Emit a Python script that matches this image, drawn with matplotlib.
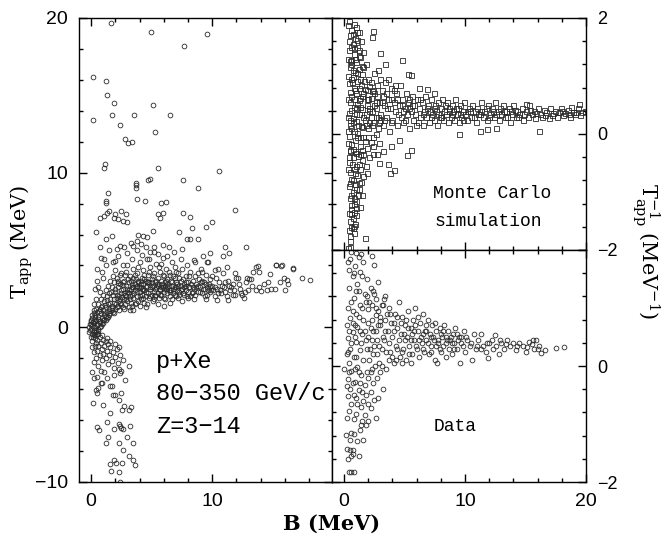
import numpy as np
import matplotlib
matplotlib.use("Agg")
import matplotlib.pyplot as plt
from matplotlib.ticker import MultipleLocator

# ---- p+Xe, T_app vs B (left panel) ----
xe_upper = [(1.63,19.7),(4.98,19.1),(9.54,18.97),(7.7,18.2),(0.17,16.2),(1.24,15.9),(1.32,15.0),
    (1.85,14.5),(5.14,14.4),(0.14,13.4),(1.71,13.7),(3.55,13.75),(6.5,13.7),(2.42,13.1),(5.28,12.6),
    (2.8,12.2),(3.03,11.9),(3.38,12.0),(1.07,10.3),(1.18,10.55),(5.55,10.27),(10.6,10.1),(7.6,9.5),
    (8.8,9.04),(4.73,9.55),(4.9,9.6),(3.69,9.3),(3.69,9.2),(3.7,9.0),(1.4,8.7),(1.21,8.2),(1.22,8.05),
    (3.8,8.3),(4.45,8.15),(5.75,8.05),(6.18,8.1),(11.9,7.6),(7.56,7.4),(8.14,7.12),(10.0,6.8),(9.48,6.5),
    (0.72,7.06),(0.39,6.15),(1.1,7.2),(1.5,7.5),(1.9,7.1),(2.0,7.3),(2.5,7.5),(2.9,7.3),(3.0,6.8),
    (2.6,6.9),(1.3,7.4),(2.2,7.0),(5.5,7.3),(5.9,7.4),(5.7,7.1),(7.3,6.15),(8.3,6.4),(5.1,6.2),
    (3.9,6.0),(4.3,5.9),(4.6,5.85),(11.1,5.2),(12.8,5.2),(11.4,4.8),(9.84,4.8),(8.8,5.74),(7.9,5.7),
    (8.2,5.72),(10.9,4.6),(9.6,4.2),(10.5,3.8),(0.72,5.2),(1.2,5.7),(1.7,5.9),(2.14,5.07),(2.42,5.27),
    (2.72,5.22),(3.27,5.48),(3.46,5.27),(3.8,5.55),(4.15,5.4),(4.57,5.22),(4.9,4.88),(5.17,5.18),
    (5.5,4.75),(5.94,5.33),(6.43,5.22),(6.87,4.84),(7.5,5.07),(8.52,4.38),(9.23,4.58),(9.65,4.21),
    (13.6,3.93),(15.3,4.04),(15.8,4.0),(16.65,3.83)]

xe_core = [(-0.2,0.0),(-0.1,0.2),(-0.1,-0.2),(0.0,0.4),(0.0,-0.1),(0.1,0.1),(0.1,0.6),(0.2,-0.3),
    (0.2,0.3),(0.3,0.8),(0.3,0.0),(0.4,0.5),(0.4,-0.2),(0.5,1.0),(0.5,0.2),(0.6,0.7),(0.6,-0.1),
    (0.7,1.2),(0.7,0.4),(0.8,0.9),(0.8,0.1),(0.9,1.4),(0.9,0.6),(1.0,1.1),(1.0,0.3),(1.1,1.7),(1.1,0.8),
    (1.2,1.3),(1.2,0.5),(1.3,2.0),(1.3,1.0),(1.4,1.5),(1.4,0.7),(1.5,2.2),(1.5,1.2),(1.6,0.9),(1.6,1.8),
    (1.7,2.6),(1.7,1.4),(1.8,1.0),(1.8,2.1),(1.9,1.6),(1.9,2.9),(2.0,1.2),(2.0,2.3),(2.1,1.9),(2.1,3.2),
    (2.2,1.4),(2.2,2.6),(2.3,1.1),(2.3,2.0),(2.4,2.8),(2.4,1.6),(2.5,3.5),(2.5,2.2),(2.6,1.3),(2.6,2.5),
    (2.7,1.8),(2.7,3.0),(2.8,2.1),(2.8,1.5),(2.9,2.7),(2.9,3.6),(3.0,1.7),(3.0,2.3),(3.1,2.9),(3.1,1.3),
    (3.2,2.0),(3.2,3.3),(3.3,2.5),(3.3,1.6),(3.4,2.8),(3.4,2.1),(3.5,1.9),(3.5,3.8),(3.6,2.4),(3.6,1.5),
    (3.7,3.1),(3.7,2.6),(3.8,2.0),(3.8,3.5),(3.9,1.7),(3.9,2.9),(4.0,2.3),(4.0,4.2),(4.1,2.6),(4.1,1.8),
    (4.2,3.2),(4.2,2.1),(4.3,2.8),(4.3,3.7),(4.4,1.6),(4.4,2.4),(4.5,3.0),(4.5,2.0),(4.6,2.7),(4.6,4.4),
    (4.7,2.2),(4.7,3.4),(4.8,1.9),(4.8,2.9),(4.9,2.5),(4.9,3.9),(5.0,2.1),(5.0,3.1),(5.1,2.7),(5.1,1.7),
    (5.2,2.3),(5.2,3.5),(5.3,2.9),(5.3,2.0),(5.4,2.6),(5.4,4.1),(5.5,2.2),(5.5,3.2),(5.6,2.8),(5.6,1.9),
    (5.7,2.4),(5.7,3.6),(5.8,3.0),(5.8,2.1),(5.9,2.6),(5.9,4.5),(6.0,2.3),(6.0,3.3),(6.1,2.9),(6.1,1.8),
    (6.2,2.5),(6.2,3.8),(6.3,2.2),(6.3,3.1),(6.4,2.7),(6.5,2.0),(6.5,3.4),(6.6,2.4),(6.7,2.9),(6.7,4.2),
    (6.8,2.2),(6.9,2.6),(6.9,3.2),(7.0,2.0),(7.0,2.9),(7.1,2.4),(7.2,3.5),(7.2,2.7),(7.3,2.1),(7.4,3.0),
    (7.5,2.5),(7.5,3.8),(7.6,2.2),(7.7,2.8),(7.8,3.3),(7.8,2.4),(7.9,2.0),(8.0,2.9),(8.1,2.6),(8.2,3.6),
    (8.3,2.2),(8.4,3.0),(8.5,2.5),(8.6,3.3),(8.7,2.8),(8.8,2.3),(8.9,3.1),(9.0,2.6),(9.1,3.8),(9.2,2.2),
    (9.3,2.9),(9.4,2.5),(9.5,3.4),(9.6,2.1),(9.7,2.8),(9.8,3.1),(9.9,2.4),(10.0,2.7),(10.2,2.0),(10.3,3.2),
    (10.4,2.5),(10.6,2.9),(10.7,2.2),(10.9,3.5),(11.0,2.6),(11.2,2.0),(11.3,3.0),(11.5,2.4),(11.7,2.8),
    (11.9,2.1),(12.1,3.2),(12.3,2.5),(12.5,2.1),(12.6,1.9),(12.8,2.9),(13.0,2.4),(13.2,3.1),(13.4,3.6),
    (13.6,2.42),(13.85,3.59),(14.0,2.36),(14.3,2.83),(14.6,2.9),(14.8,3.44),(14.9,2.5),(15.2,2.5),
    (15.6,2.9),(15.9,3.2),(16.0,2.4),(16.2,3.07),(16.3,2.8),(17.4,3.2),(18.1,3.07),(11.3,1.76),
    (10.4,1.78),(11.7,2.08),(12.4,2.25),(12.9,3.2),(13.06,3.1),(11.9,3.5),(12.0,3.2),(15.7,3.97),
    (15.3,4.06),(13.8,3.97),(16.65,3.78),(5.5,1.5),(6.5,1.6),(7.5,1.7),(8.5,1.8),(9.5,1.85),(4.5,1.3),
    (3.5,1.1),(8.0,1.9),(6.0,1.4)]

xe_fill = [(0.0,0.2),(0.1,-0.4),(0.2,0.9),(0.3,0.4),(0.4,1.2),(0.5,-0.4),(0.6,1.5),(0.7,0.0),(0.8,1.8),
    (0.9,0.2),(1.0,2.1),(1.1,0.5),(1.2,2.4),(1.3,0.6),(1.4,2.7),(1.5,0.8),(1.6,3.0),(1.7,1.1),(1.8,3.3),
    (1.9,0.9),(2.0,3.7),(2.1,1.3),(2.2,3.0),(2.3,1.7),(2.4,3.4),(2.5,1.5),(2.6,2.9),(2.7,1.2),(2.8,3.4),
    (2.9,2.0),(3.0,4.0),(3.1,2.2),(3.2,1.1),(3.3,3.0),(3.4,1.4),(3.5,2.6),(3.6,3.4),(3.7,1.6),(3.8,2.7),
    (3.9,3.9),(4.0,1.4),(4.1,3.0),(4.2,2.5),(4.3,1.9),(4.4,3.4),(4.5,2.6),(4.6,1.5),(4.7,2.9),(4.8,3.6),
    (4.9,2.0),(5.0,2.6),(5.1,3.3),(5.2,1.8),(5.3,2.5),(5.4,3.0),(5.5,2.7),(5.6,3.9),(5.7,2.1),(5.8,2.6),
    (5.9,3.4),(6.0,1.9),(6.1,2.7),(6.2,3.0),(6.3,2.6),(6.4,3.6),(6.5,2.3),(6.6,3.0),(6.7,1.8),(6.8,3.3),
    (6.9,2.1),(7.0,3.6),(7.1,2.8),(7.2,1.9),(7.3,3.2),(7.4,2.4),(7.6,3.1),(7.7,2.1),(7.8,2.7),(8.0,2.3),
    (8.1,3.3),(8.2,2.0),(8.4,2.6),(8.6,2.1),(8.8,3.5),(9.0,2.3),(9.2,3.0),(9.4,2.0),(9.6,2.6),(9.8,2.3),
    (10.0,3.3),(10.1,2.4),(10.5,2.2),(10.8,2.7),(11.1,2.3),(11.4,2.7),(11.8,2.4),(12.2,2.8),(12.7,2.3),
    (13.3,2.7),(13.9,2.6),(14.5,2.4),(0.5,3.8),(0.8,4.5),(1.0,3.2),(1.2,4.0),(1.5,5.0),(1.8,4.2),
    (2.2,4.6),(2.6,4.0),(3.0,4.8),(3.4,4.4),(3.8,5.0),(4.2,4.7),(4.8,4.4),(5.2,4.9),(5.8,4.1),(6.3,4.6),
    (6.9,3.9),(7.4,4.4),(0.3,2.5),(0.5,3.0),(0.7,2.3),(0.9,3.6),(0.4,1.8),(0.6,2.6),(0.2,1.5),(1.1,4.4),
    (2.0,4.3),(7.9,4.0),(8.6,4.2),(9.2,3.6),(10.2,3.7),(11.2,3.9)]

xe_fill2 = [(0.15,0.35),(0.25,-0.15),(0.35,0.65),(0.45,0.15),(0.55,0.55),(0.65,1.05),(0.75,0.25),
    (0.85,1.3),(0.95,0.45),(1.05,0.95),(1.15,1.45),(1.25,0.75),(1.35,1.75),(1.45,1.05),(1.55,1.55),
    (1.65,2.3),(1.75,1.25),(1.85,1.85),(1.95,2.5),(2.05,1.5),(2.15,2.1),(2.25,2.85),(2.35,1.8),(2.45,2.4),
    (2.55,1.95),(2.65,2.75),(2.75,2.25),(2.85,1.8),(2.95,2.5),(3.05,3.1),(3.15,2.4),(3.25,1.8),(3.35,2.6),
    (3.45,3.2),(3.55,2.2),(3.65,2.8),(3.75,2.3),(3.85,3.0),(3.95,2.6),(4.05,2.0),(4.15,2.8),(4.25,2.4),
    (4.35,3.1),(4.55,2.3),(4.65,2.9),(4.85,2.6),(5.05,2.9),(5.25,2.1),(5.45,2.8),(5.65,2.5),(5.85,2.8),
    (6.05,2.5),(6.25,2.8),(6.45,2.4),(6.65,2.7),(6.85,2.5),(7.05,2.6),(7.25,2.3),(7.45,2.7),(7.65,2.6),
    (7.85,2.9),(8.05,2.6),(8.25,2.8),(8.45,2.3),(8.65,2.6),(8.85,2.7),(9.05,2.9),(9.25,2.5),(9.45,2.8),
    (9.65,2.4),(9.85,2.7),(10.25,2.6),(10.65,2.4),(11.05,2.9),(11.55,2.6),(0.05,0.8),(0.25,1.1),
    (-0.05,0.5),(0.15,-0.6),(0.35,-0.5),(0.55,-0.25),(-0.15,-0.3)]

xe_lower = [(0.0,-0.6),(0.1,-0.9),(0.2,-0.5),(0.3,-1.2),(0.3,-0.7),(0.4,-1.0),(0.5,-1.5),(0.5,-0.8),
    (0.6,-1.2),(0.7,-0.6),(0.7,-1.8),(0.8,-1.0),(0.9,-1.4),(0.9,-2.1),(1.0,-0.8),(1.0,-1.7),(1.1,-1.2),
    (1.2,-2.0),(1.2,-0.9),(1.3,-1.5),(1.4,-2.4),(1.4,-1.1),(1.5,-1.8),(1.6,-1.3),(1.7,-2.2),(1.8,-1.6),
    (1.9,-2.6),(2.0,-1.9),(2.1,-1.4),(2.2,-2.3),(2.4,-1.8),(2.5,-2.8),(2.6,-2.1),(0.2,-1.6),(0.4,-2.0),
    (0.6,-2.5),(0.8,-2.8),(1.1,-2.9),(0.1,-1.3),(0.4,-0.3),(0.6,-0.4),(0.9,-0.5),(1.3,-0.7),(1.6,-0.9),
    (2.0,-1.1),(2.3,-1.3),(0.22,-2.25),(3.13,-2.53),(2.28,-2.7),(2.42,-2.98),(1.85,-3.1),(0.28,-3.28),
    (0.45,-3.22),(0.8,-3.57),(0.91,-3.63),(1.6,-3.78),(1.76,-3.78),(0.39,-4.04),(0.5,-4.23),(0.6,-3.95),
    (2.5,-4.25),(2.0,-4.4),(1.8,-4.4),(2.34,-4.73),(3.3,-5.12),(3.1,-5.35),(2.56,-5.35),(1.6,-5.53),
    (1.35,-6.13),(2.28,-6.24),(2.4,-6.4),(2.5,-6.5),(2.6,-6.6),(3.25,-6.4),(0.47,-6.45),(0.69,-6.63),
    (1.87,-6.6),(1.4,-7.1),(1.24,-7.45),(2.97,-7.1),(2.28,-7.48),(3.44,-7.47),(2.6,-7.9),(3.1,-8.3),
    (1.93,-8.56),(2.06,-8.74),(1.57,-8.84),(2.59,-8.78),(3.46,-8.6),(3.63,-8.87),(1.68,-9.26),(2.3,-9.36),
    (2.37,-9.97),(2.8,-3.4),(0.1,-2.9),(1.3,-3.3),(0.15,-4.9),(1.0,-5.0),(2.7,-5.1)]

# ---- Monte Carlo, 1/T_app vs B (top right) ----
mc_vert = [(0.4,1.94),(0.8,1.9),(1.0,1.85),(0.6,1.8),(1.2,1.75),(0.5,1.7),(0.9,1.65),(1.4,1.6),(0.7,1.55),
    (1.1,1.5),(0.4,1.45),(1.6,1.42),(0.8,1.38),(1.3,1.33),(0.6,1.28),(1.0,1.24),(1.8,1.2),(0.5,1.15),
    (1.2,1.12),(0.9,1.07),(1.5,1.03),(0.7,0.98),(2.0,0.95),(1.1,0.92),(0.4,0.88),(1.4,0.85),(0.8,0.8),
    (1.7,0.77),(2.3,0.74),(1.0,0.7),(0.6,0.66),(1.3,0.62),(1.9,0.6),(0.5,0.55),(1.1,0.52),(2.5,0.5),
    (0.8,0.46),(1.5,0.43),(2.1,0.4),(0.4,0.37),(1.2,0.34),(2.8,0.3),(0.7,0.28),(1.7,0.25),(1.0,0.22),
    (2.4,0.2),(0.5,0.16),(1.4,0.13),(2.0,0.1),(0.8,0.06),(1.1,0.02),(2.6,0.0),(0.4,-0.03),(1.6,-0.06),
    (0.9,-0.1),(2.2,-0.13),(0.6,-0.17),(1.3,-0.2),(1.9,-0.24),(0.5,-0.28),(1.0,-0.32),(2.4,-0.35),
    (0.7,-0.4),(1.5,-0.44),(0.4,-0.48),(1.2,-0.52),(1.8,-0.55),(0.8,-0.6),(0.5,-0.65),(1.1,-0.7),
    (1.6,-0.72),(0.6,-0.78),(1.4,-0.82),(0.9,-0.86),(0.4,-0.9),(1.2,-0.95),(0.7,-1.0),(1.5,-1.05),
    (0.5,-1.1),(1.0,-1.15),(0.8,-1.2),(1.3,-1.25),(0.6,-1.3),(0.4,-1.36),(1.0,-1.4),(0.7,-1.45),
    (0.5,-1.5),(0.9,-1.55),(0.6,-1.6),(0.4,-1.66),(0.8,-1.7),(0.5,-1.76),(0.5,-1.84),(1.74,-1.79),
    (0.35,-1.96),(0.3,1.0),(0.6,1.2),(1.3,0.95),(1.6,0.7),(1.0,0.45),(0.3,0.3),(1.8,0.35),(0.6,0.1),
    (1.3,-0.05),(0.9,-0.3),(1.6,-0.35),(0.3,-0.6),(1.0,-0.55),(0.7,-0.8),(1.0,-0.95),(0.5,-0.3),
    (0.3,0.6),(0.9,0.75),(1.2,0.58),(1.5,0.12),(0.3,-0.15),(0.7,1.1),(1.2,1.35),(0.4,1.6),(1.1,1.75),
    (0.6,-1.05),(0.8,-1.35),(0.9,1.3)]

mc_fill = [(0.35,1.88),(0.75,1.72),(1.05,1.62),(0.55,1.5),(1.25,1.45),(0.85,1.48),(0.45,1.25),(1.45,1.18),
    (1.05,1.05),(0.65,0.9),(1.65,0.92),(1.25,0.8),(0.45,0.72),(2.1,0.82),(0.85,0.6),(1.45,0.65),(2.2,0.62),
    (0.6,0.42),(1.35,0.47),(1.9,0.5),(0.95,0.35),(2.6,0.45),(1.55,0.3),(0.45,0.25),(2.25,0.3),(1.15,0.15),
    (1.85,0.15),(0.7,0.2),(2.9,0.2),(0.35,0.05),(1.05,-0.05),(1.75,-0.12),(0.75,-0.25),(2.0,-0.05),
    (1.45,-0.28),(0.4,-0.4),(1.15,-0.38),(2.1,-0.4),(0.65,-0.52),(1.35,-0.6),(0.9,-0.68),(1.9,-0.68),
    (0.5,-0.85),(1.25,-0.85),(0.8,-1.1),(1.15,-1.05),(0.55,-1.22),(1.0,-1.28),(0.7,-1.62),(0.55,-1.38),
    (0.85,-1.58),(0.45,-1.95),(1.3,-0.35),(0.55,0.95),(1.6,1.15),(0.3,1.3),(1.9,0.75),(2.3,0.15),
    (2.7,0.65),(3.1,0.55),(3.5,0.7),(3.3,0.25),(3.9,0.6),(4.4,0.6),(4.9,0.4),(5.4,0.6),(2.5,1.05),
    (3.0,0.95),(2.4,-0.2),(2.7,-0.35)]

mc_band = [(2.0,0.6),(2.1,0.2),(2.2,0.9),(2.3,0.4),(2.4,-0.05),(2.5,0.7),(2.6,0.3),(2.7,0.85),(2.8,0.1),
    (2.9,0.55),(3.0,0.35),(3.1,0.75),(3.2,0.15),(3.3,0.5),(3.4,0.9),(3.5,0.3),(3.6,0.6),(3.7,0.05),
    (3.8,0.45),(3.9,0.8),(4.0,0.25),(4.1,0.55),(4.2,0.4),(4.3,0.7),(4.4,0.15),(4.5,0.5),(4.6,0.85),
    (4.7,0.3),(4.8,0.6),(4.9,0.2),(5.0,0.45),(5.1,0.7),(5.2,0.35),(5.3,0.55),(5.4,0.1),(5.5,0.4),
    (5.6,0.65),(5.7,0.25),(5.8,0.5),(5.9,0.35),(6.0,0.6),(6.1,0.2),(6.2,0.45),(6.3,0.3),(6.4,0.55),
    (6.5,0.15),(6.6,0.4),(6.7,0.65),(6.8,0.3),(6.9,0.5),(7.0,0.2),(7.1,0.4),(7.2,0.6),(7.3,0.35),
    (7.4,0.25),(7.5,0.5),(7.6,0.4),(7.7,0.15),(7.8,0.55),(7.9,0.3),(8.0,0.45),(8.1,0.6),(8.2,0.25),
    (8.3,0.4),(8.4,0.35),(8.5,0.55),(8.6,0.2),(8.7,0.45),(8.8,0.3),(8.9,0.5),(9.0,0.4),(9.1,0.25),
    (9.2,0.6),(9.3,0.35),(9.4,0.45),(9.5,0.2),(9.6,0.5),(9.7,0.3),(9.8,0.4),(9.9,0.55),(10.0,0.35),
    (10.2,0.25),(10.3,0.45),(10.5,0.3),(10.6,0.5),(10.8,0.4),(10.9,0.2),(11.0,0.45),(11.2,0.35),
    (11.3,0.55),(11.5,0.3),(11.6,0.4),(11.8,0.25),(11.9,0.5),(12.1,0.35),(12.2,0.45),(12.4,0.3),
    (12.5,0.55),(12.7,0.4),(12.8,0.25),(13.0,0.35),(13.1,0.5),(13.3,0.3),(13.4,0.4),(13.6,0.45),
    (13.7,0.2),(13.9,0.35),(14.0,0.5),(14.2,0.3),(14.3,0.4),(14.5,0.35),(14.7,0.45),(14.8,0.25),
    (15.0,0.4),(15.2,0.3),(15.3,0.5),(15.5,0.35),(15.7,0.4),(15.8,0.28),(16.0,0.45),(16.2,0.35),
    (16.4,0.3),(16.5,0.42),(16.7,0.38),(16.9,0.28),(17.0,0.45),(17.2,0.33),(17.4,0.4),(17.6,0.3),
    (17.8,0.38),(17.9,0.45),(18.1,0.32),(18.3,0.36),(18.5,0.42),(18.7,0.3),(18.9,0.38),(19.1,0.34),
    (19.3,0.44),(19.5,0.32),(19.7,0.38),(19.9,0.4),(19.4,0.52),(18.8,0.47),
    (2.05,0.45),(2.35,0.75),(2.65,0.55),(2.95,0.25),(3.25,0.65),(3.55,0.45),(3.85,0.2),(4.15,0.75),
    (4.45,0.35),(4.75,0.5),(5.05,0.25),(5.35,0.45),(5.65,0.5),(5.95,0.15),(6.25,0.6),(6.55,0.35),
    (6.85,0.45),(7.15,0.3),(7.45,0.45),(7.75,0.35),(8.05,0.3),(8.35,0.5),(8.65,0.4),(8.95,0.35),
    (9.25,0.45),(9.55,0.35),(9.85,0.25),(10.15,0.4),(10.45,0.4),(10.75,0.3),(11.05,0.35),(11.35,0.4),
    (11.7,0.45),(12.0,0.3),(12.3,0.4),(12.6,0.35),(12.9,0.45),(13.2,0.4),(13.5,0.3),(13.8,0.4),
    (14.1,0.42),(14.4,0.3),(14.9,0.35),(15.4,0.42),(15.9,0.36),(16.6,0.33),(17.3,0.36),(18.0,0.4),
    (18.6,0.35),(19.2,0.38)]

mc_outliers = [(2.4,1.78),(2.27,1.67),(4.78,1.28),(5.3,1.04),(5.5,1.02),(6.88,0.78),(3.76,-0.67),
    (4.12,-0.62),(5.22,-0.37),(5.55,-0.27),(3.62,-0.52),(2.85,-0.5),(16.1,0.06),(9.5,0.0),(11.8,0.09),
    (12.6,0.1),(15.05,0.52),(11.2,0.05),(3.0,1.4),(3.4,1.2),(2.8,1.1),(3.6,0.95),(4.2,0.85),(3.2,-0.3),
    (2.9,-0.15),(3.9,-0.2),(4.5,-0.1),(6.2,0.8),(7.4,0.7)]

# ---- Data, 1/T_app vs B (bottom right) ----
data_left = [(0.6,1.96),(1.0,1.94),(1.4,1.93),(2.3,1.9),(0.5,1.85),(1.2,1.88),(1.6,1.8),(0.9,1.72),
    (0.4,1.65),(2.5,1.75),(1.3,1.62),(0.7,1.55),(1.9,1.5),(2.8,1.45),(1.1,1.42),(0.4,1.35),(2.2,1.35),
    (3.4,1.2),(1.7,1.25),(0.8,1.18),(2.6,1.15),(3.1,1.05),(1.3,1.05),(0.3,1.0),(2.0,0.98),(1.0,0.9),
    (2.6,0.88),(0.5,0.82),(1.6,0.8),(3.0,0.78),(0.2,0.7),(1.1,0.68),(2.2,0.65),(0.7,0.58),(1.5,0.55),
    (0.3,0.48),(1.0,0.42),(0.5,0.3),(1.3,0.28),(0.2,0.2),(0.8,0.15),(1.6,0.1),(0.4,0.05),(1.1,-0.02),
    (0.0,-0.05),(0.6,-0.08),(1.4,-0.15),(2.0,-0.2),(0.3,-0.22),(0.9,-0.28),(1.7,-0.32),(2.4,-0.3),
    (0.5,-0.4),(1.2,-0.42),(3.18,-0.4),(0.3,-0.52),(1.0,-0.55),(1.8,-0.5),(2.5,-0.58),(0.6,-0.65),
    (1.4,-0.7),(2.2,-0.72),(0.4,-0.78),(1.0,-0.82),(1.7,-0.85),(0.2,-0.9),(0.8,-0.92),(1.5,-0.95),
    (1.4,-1.02),(1.8,-1.02),(0.15,-1.19),(0.6,-1.16),(0.85,-1.18),(0.45,-1.28),(1.1,-1.3),(1.6,-1.28),
    (2.0,-0.95),(0.25,-1.43),(0.45,-1.44),(0.3,-1.6),(0.55,-1.55),(0.75,-1.52),(1.25,-1.55),(0.4,-1.82),
    (0.6,-1.82),(0.85,-1.82),(0.7,-1.45),(1.3,-1.1),(2.6,-0.9),(0.4,0.6),(0.9,0.7),(1.4,0.4),(1.9,0.3),
    (2.3,0.45),(0.7,0.95),(1.2,1.3),(1.8,1.1),(2.4,1.3),(0.8,-0.5),(1.2,-0.1),(1.6,-0.6),(2.2,-0.45),
    (2.8,-0.55),(0.6,0.4),(1.5,1.0),(2.1,0.1),(0.2,-0.35),(1.0,0.15),(2.7,0.2)]

data_main = [(2.0,0.5),(2.1,1.1),(2.2,-0.1),(2.3,0.8),(2.4,0.2),(2.5,1.25),(2.6,0.6),(2.7,-0.2),(2.8,0.95),
    (2.9,0.35),(3.0,0.7),(3.1,0.0),(3.2,1.05),(3.3,0.45),(3.4,0.8),(3.5,-0.05),(3.6,0.6),(3.7,1.0),
    (3.8,0.25),(3.9,0.75),(4.0,0.5),(4.1,0.05),(4.2,0.9),(4.3,0.35),(4.4,0.65),(4.5,1.1),(4.6,0.15),
    (4.7,0.55),(4.8,0.85),(4.9,0.3),(5.0,0.7),(5.1,0.1),(5.2,0.5),(5.3,0.95),(5.4,0.35),(5.5,0.65),
    (5.6,0.2),(5.7,0.8),(5.8,0.45),(5.9,1.0),(6.0,0.3),(6.1,0.6),(6.2,0.15),(6.3,0.75),(6.4,0.4),
    (6.5,0.9),(6.6,0.25),(6.7,0.6),(6.8,0.45),(6.9,0.8),(7.0,0.2),(7.1,0.55),(7.2,0.35),(7.3,0.7),
    (7.4,0.45),(7.5,0.1),(7.6,0.6),(7.7,0.05),(7.8,0.4),(7.9,0.65),(8.0,0.25),(8.1,0.5),(8.2,0.35),
    (8.3,0.7),(8.4,0.15),(8.5,0.45),(8.6,0.6),(8.7,0.3),(8.8,0.5),(8.9,0.2),(9.0,0.55),(9.1,0.4),
    (9.2,0.65),(9.3,0.3),(9.4,0.45),(9.56,0.06),(9.7,0.5),(9.8,0.35),(9.9,0.6),(10.0,0.25),(10.2,0.45),
    (10.4,0.35),(10.6,0.1),(10.7,0.55),(10.9,0.3),(11.1,0.45),(11.35,0.56),(11.5,0.35),(11.7,0.25),
    (11.9,0.13),(12.0,0.4),(12.2,0.45),(12.5,0.53),(12.6,0.35),(12.8,0.2),(13.0,0.4),(13.2,0.3),
    (13.5,0.45),(13.7,0.35),(14.0,0.4),(14.2,0.28),(14.5,0.4),(14.8,0.35),(15.0,0.25),(15.3,0.42),
    (15.5,0.38),(15.7,0.3),(15.9,0.45),(16.1,0.35),(16.3,0.22),(16.65,0.27),(17.5,0.31),(18.2,0.33),
    (2.15,0.3),(2.35,0.6),(2.55,0.0),(2.75,0.45),(2.95,0.85),(3.15,0.3),(3.35,0.6),(3.55,0.9),
    (3.75,0.4),(3.95,0.15),(4.15,0.6),(4.35,0.85),(4.55,0.45),(4.75,0.25),(4.95,0.55),(5.15,0.8),
    (5.35,0.2),(5.55,0.45),(5.75,0.6),(5.95,0.35),(6.15,0.85),(6.35,0.5),(6.55,0.3),(6.75,0.7),
    (6.95,0.4),(7.15,0.25),(7.35,0.5),(7.55,0.75),(7.75,0.45),(7.95,0.3),(8.15,0.6),(8.45,0.4),
    (8.75,0.45),(9.05,0.3),(9.35,0.55),(9.65,0.4),(10.1,0.5),(10.5,0.4),(11.0,0.35),(11.3,0.3),
    (11.8,0.4),(12.3,0.3),(12.9,0.45),(13.4,0.38),(14.3,0.35),(15.1,0.32),(15.6,0.45),(16.0,0.3)]

data_fill = [(0.3,1.8),(0.8,1.6),(1.5,1.55),(1.0,1.3),(0.6,1.1),(1.9,1.2),(2.3,1.05),(0.9,0.5),(1.2,0.85),
    (1.7,0.6),(2.0,0.75),(2.5,0.35),(2.8,0.7),(3.2,0.5),(3.5,0.25),(3.8,0.9),(4.1,0.75),(4.4,0.3),
    (4.7,0.75),(5.0,0.45),(5.3,0.65),(5.6,0.55),(5.9,0.7),(6.2,0.45),(6.5,0.55),(6.8,0.6),(7.2,0.5),
    (7.6,0.35),(8.0,0.55),(8.4,0.5),(8.9,0.4),(9.5,0.5),(0.4,-0.1),(0.9,-0.05),(1.3,-0.3),(1.9,-0.1),
    (2.3,-0.05),(2.9,0.05),(0.7,-0.3),(1.1,-0.65),(1.5,-0.45),(2.0,-0.65),(0.3,0.25),(0.7,0.75),
    (1.3,0.6),(1.8,0.45),(2.6,1.0),(3.3,1.15),(3.0,-0.1),(3.7,0.1),(4.3,0.1),(4.8,0.05),(5.5,0.05)]

plt.rcParams['mathtext.fontset'] = 'dejavuserif'
tick_font = 'Liberation Sans'
mono = 'Liberation Mono'


def style_axes(ax, xmaj, xmin, ymaj, ymin):
    ax.xaxis.set_major_locator(MultipleLocator(xmaj))
    ax.xaxis.set_minor_locator(MultipleLocator(xmin))
    ax.yaxis.set_major_locator(MultipleLocator(ymaj))
    ax.yaxis.set_minor_locator(MultipleLocator(ymin))
    ax.tick_params(which='both', direction='in', top=True, right=True, width=1.0)
    ax.tick_params(which='major', length=6)
    ax.tick_params(which='minor', length=3)
    for s in ax.spines.values():
        s.set_linewidth(1.0)


def draw(ax, pts, marker, ms):
    arr = np.array(pts)
    ax.plot(arr[:, 0], arr[:, 1], linestyle='none', marker=marker, ms=ms,
            mfc='none', mec='#2a2a2a', mew=0.6)


fig = plt.figure(figsize=(6.72, 5.37), dpi=100)

# left panel
axL = fig.add_axes([79/672, 1-482/537, 253/672, 464/537])
for pts in (xe_upper, xe_core, xe_fill, xe_fill2, xe_lower):
    draw(axL, pts, 'o', 3.4)
axL.set_xlim(-1, 19.9)
axL.set_ylim(-10, 20)
style_axes(axL, 10, 2, 10, 2)
axL.tick_params(axis='both', labelsize=14, pad=8)
for lab in axL.get_xticklabels() + axL.get_yticklabels():
    lab.set_fontfamily(tick_font)
axL.text(0.304, 0.259, 'p+Xe', transform=axL.transAxes, family=mono, fontsize=17, va='center')
axL.text(0.304, 0.191, '80\u2212350 GeV/c', transform=axL.transAxes, family=mono, fontsize=17, va='center')
axL.text(0.304, 0.119, 'Z=3\u221214', transform=axL.transAxes, family=mono, fontsize=17, va='center')

# top right panel (Monte Carlo)
axT = fig.add_axes([332/672, 1-250/537, 254/672, 232/537])
for pts in (mc_vert, mc_fill, mc_band, mc_outliers):
    draw(axT, pts, 's', 3.6)
axT.set_xlim(-1, 20)
axT.set_ylim(-2, 2)
style_axes(axT, 10, 2, 2, 0.4)
axT.tick_params(axis='x', labelbottom=False)
axT.tick_params(axis='y', labelleft=False, labelright=True, labelsize=13, pad=8)
for lab in axT.get_yticklabels():
    lab.set_fontfamily(tick_font)
axT.text(0.396, 0.244, 'Monte Carlo', transform=axT.transAxes, family=mono, fontsize=13, va='center')
axT.text(0.405, 0.122, 'simulation', transform=axT.transAxes, family=mono, fontsize=13, va='center')

# bottom right panel (Data)
axB = fig.add_axes([332/672, 1-482/537, 254/672, 232/537])
for pts in (data_left, data_main, data_fill):
    draw(axB, pts, 'o', 3.4)
axB.set_xlim(-1, 20)
axB.set_ylim(-2, 2)
style_axes(axB, 10, 2, 2, 0.4)
axB.set_yticks([-2, 0, 2])
axB.set_yticklabels(['\u22122', '0', ''])
axB.tick_params(axis='y', labelleft=False, labelright=True, labelsize=13, pad=8)
axB.tick_params(axis='x', labelsize=14, pad=8)
for lab in axB.get_xticklabels() + axB.get_yticklabels():
    lab.set_fontfamily(tick_font)
axB.text(0.401, 0.238, 'Data', transform=axB.transAxes, family=mono, fontsize=13, va='center')

# axis titles
fig.text(22/672, 1-242/537, r'$\mathrm{T_{app}}$ (MeV)', rotation=90, ha='center', va='center',
         family='DejaVu Serif', fontsize=15)
fig.text(646/672, 1-251/537, r'$\mathrm{T_{app}^{-1}}$ (MeV$^{-1}$)', rotation=270, ha='center', va='center',
         family='DejaVu Serif', fontsize=15)
fig.text(332/672, 1-524/537, 'B (MeV)', ha='center', va='center', family='DejaVu Serif',
         fontsize=15, fontweight='bold')

fig.savefig('out.png', dpi=100)
